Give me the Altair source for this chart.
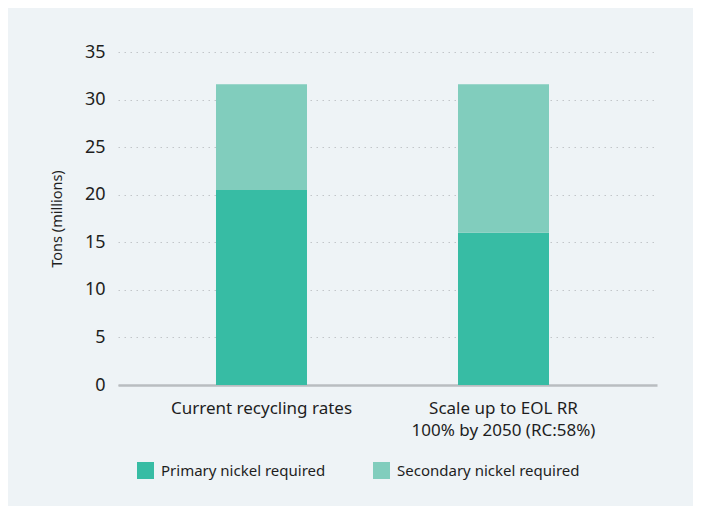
import altair as alt
import pandas as pd

categories = ["Current recycling rates", "Scale up to EOL RR 100% by 2050 (RC:58%)"]
category_lines = [["Current recycling rates"], ["Scale up to EOL RR", "100% by 2050 (RC:58%)"]]
series = ["Primary nickel required", "Secondary nickel required"]
primary = [20.5, 16.0]
secondary = [11.1, 15.6]
colors = ["#37bca4", "#81cdbd"]

rows = []
for i, c in enumerate(categories):
    rows.append({"category": c, "series": series[0], "value": primary[i], "idx": 0})
    rows.append({"category": c, "series": series[1], "value": secondary[i], "idx": 1})
df = pd.DataFrame(rows)

label_expr = "datum.value == '%s' ? %s : datum.label" % (
    categories[1], "['" + "','".join(category_lines[1]) + "']")

FONT = "Noto Sans"
TXT = "#1e1e1e"

chart = alt.Chart(df).mark_bar(size=91).encode(
    x=alt.X("category:N", sort=categories,
            scale=alt.Scale(paddingInner=0, paddingOuter=0.1136, align=0.409),
            axis=alt.Axis(title=None, labelAngle=0, labelExpr=label_expr, ticks=False,
                          domainColor="#b9bdc0", domainWidth=2.5, labelFontSize=17,
                          labelColor=TXT, labelPadding=15, labelFont=FONT,
                          labelLineHeight=22, labelLimit=400, grid=False)),
    y=alt.Y("value:Q", stack="zero",
            scale=alt.Scale(domain=[0, 35]),
            axis=alt.Axis(title="Tons (millions)", values=[0, 5, 10, 15, 20, 25, 30, 35],
                          domain=False, ticks=False, labelFontSize=18, labelColor=TXT,
                          labelFont=FONT, labelPadding=13, grid=True, gridColor="#c2c6c9",
                          gridDash=[1.5, 4.5], gridWidth=1.2,
                          titleFont=FONT, titleFontSize=14.5, titleFontWeight="normal",
                          titleColor=TXT, titleX=-61, titleY=166.5, titleAngle=-90,
                          titleAlign="center", titleBaseline="middle")),
    color=alt.Color("series:N", scale=alt.Scale(domain=series, range=colors),
                    legend=alt.Legend(title=None, orient="none", legendX=19, legendY=410,
                                      direction="horizontal", symbolType="square",
                                      symbolSize=289, symbolStrokeWidth=0, symbolOpacity=1,
                                      labelFont=FONT, labelFontSize=15, labelColor=TXT,
                                      labelOffset=7, columnPadding=47, padding=0,
                                      labelLimit=300)),
    order=alt.Order("idx:Q", sort="ascending"),
).properties(
    width=539, height=333,
    background="#eef3f6",
    padding={"left": 110, "top": 44, "right": 36, "bottom": 121},
    autosize=alt.AutoSizeParams(type="none"),
).configure_view(stroke=None)

chart.save("out.html", embed_options={"renderer": "svg", "actions": False})
